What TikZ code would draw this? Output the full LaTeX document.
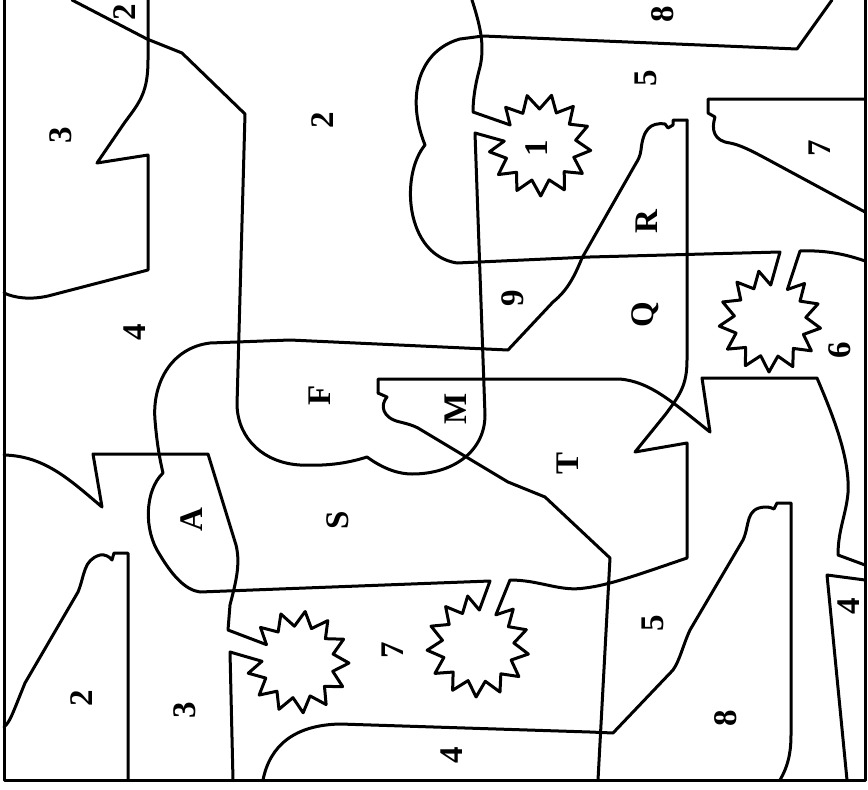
\documentclass[tikz,border=0pt]{standalone}
\usepackage{fontspec}
\setmainfont{Liberation Serif}
\usetikzlibrary{calc}

\tikzset{lab/.style={rotate=90,font=\fontsize{33}{33}\selectfont\bfseries,inner sep=0pt}}

% 13 point burst, one spike left out; #1a and #1b are the inner corners beside the gap
\newcommand{\burst}[4]{%
  \begin{scope}[shift={(#2,#3)}]
    \coordinate (#1a) at ({#4-13.846}:36);
    \coordinate (#1b) at ({#4+13.846}:36);
    \draw (#1b) \foreach \k in {1,...,12} { -- ({#4+\k*27.692}:51) -- ({#4+(\k+0.5)*27.692}:36) };
  \end{scope}}

\begin{document}
\begin{tikzpicture}[line cap=round,line join=round,x=1pt,y=-1pt,line width=3pt]
\useasboundingbox (0,0) rectangle (868,790);
\draw (4,0) -- (4,780) -- (865,780) -- (865,0);
% bursts
\burst{s1}{540}{145}{-160}
\burst{s2}{770}{321}{-75}
\burst{s3}{478}{646}{-74}
\burst{s4}{298}{662}{-165}
% top left
\draw (148,0) -- (148,60) .. controls (148,92) and (140,102) .. (125,122) -- (97,163) -- (148,155) -- (148,270) -- (48,296) .. controls (30,300) and (15,298) .. (4,293);
\draw (72,0) -- (147,39) -- (182,53) -- (245,114) -- (237,405) .. controls (238,440) and (265,463) .. (300,465) .. controls (325,466) and (345,464) .. (367,457) .. controls (385,470) and (400,474) .. (412,474) .. controls (455,474) and (485,450) .. (485,415) -- (475,133) -- (s1a);
\draw (472,0) .. controls (480,25) and (485,45) .. (480,67) .. controls (475,85) and (473,100) .. (473,112) -- (s1b);
% cloud at the top
\draw (832,0) -- (797,49) -- (483,36) -- (460,39) .. controls (420,50) and (405,95) .. (425,145) .. controls (400,175) and (405,255) .. (457,263) -- (590,257) -- (780,252) -- (s2a);
\draw (865,261) .. controls (845,254) and (825,250) .. (800,251) -- (s2b);
\draw (865,99) -- (708,99) -- (708,113) -- (715,117) .. controls (711,130) and (714,141) .. (730,143) .. controls (740,145) and (750,150) .. (765,158) -- (865,212);
% R, 9, F, A
\draw (687,120) -- (673,120) -- (673,125) -- (668,128) -- (665,124) .. controls (650,122) and (643,130) .. (641,150) .. controls (640,157) and (638,160) .. (635,165) -- (582,258) .. controls (575,275) and (568,290) .. (553,302) -- (508,350) -- (290,340) -- (210,343) .. controls (170,348) and (152,385) .. (155,420) .. controls (157,445) and (160,460) .. (163,473) .. controls (145,490) and (143,530) .. (160,555) .. controls (172,575) and (185,590) .. (200,592) -- (490,581) -- (s3a);
\draw (687,120) -- (687,360) .. controls (687,385) and (680,395) .. (665,415) -- (635,452) -- (687,443) -- (687,558) .. controls (640,574) and (610,585) .. (585,588) .. controls (560,592) and (540,580) .. (510,580) -- (s3b);
% T
\draw (378,393) -- (378,379) -- (620,379) .. controls (650,382) and (670,400) .. (710,432) -- (702,378) -- (817,378) .. controls (835,420) and (850,460) .. (848,493) .. controls (846,515) and (838,530) .. (838,555) -- (865,565);
\draw (378,393) -- (387,397) .. controls (380,405) and (382,418) .. (400,422) .. controls (408,424) and (412,425) .. (418,428) -- (508,482) -- (545,497) -- (610,558) -- (598,780);
% S
\draw (4,455) .. controls (45,456) and (70,480) .. (102,507) -- (93,454) -- (208,454) -- (236,545) .. controls (241,565) and (235,585) .. (230,605) -- (228,630) -- (s4b);
\draw (233,780) -- (230,652) -- (s4a);
% bottom
\draw (4,727) .. controls (10,722) and (12,715) .. (25,683) -- (78,592) .. controls (85,575) and (83,560) .. (100,555) .. controls (105,554) and (110,557) .. (112,560) -- (114,553) -- (128,553) -- (128,780);
\draw (263,780) .. controls (270,745) and (295,725) .. (340,724) -- (590,732) -- (613,733) -- (673,670) .. controls (680,660) and (683,645) .. (690,630) -- (743,540) .. controls (750,525) and (745,508) .. (765,507) .. controls (770,507) and (772,508) .. (774,509) -- (777,503) -- (791,503) -- (791,735) .. controls (791,755) and (787,768) .. (780,780);
\draw (865,580) -- (827,575) -- (847,780);
% labels
\node[lab] (l2a) at (125,12) {2};
\node[lab] (l3a) at (61,135) {3};
\node[lab] (l2b) at (323,120) {2};
\node[lab] (l8a) at (663,14) {8};
\node[lab] (l5a) at (646,78) {5};
\node[lab] (l1) at (537,148) {1};
\node[lab] (l7a) at (820,148) {7};
\node[lab] (lR) at (647,222) {R};
\node[lab] (l9) at (513,298) {9};
\node[lab] (lQ) at (645,315) {Q};
\node[lab] (l6) at (840,350) {6};
\node[lab] (l4a) at (135,332) {4};
\node[lab] (lF) at (320,395) {F};
\node[lab] (lM) at (456,409) {M};
\node[lab] (lT) at (568,463) {T};
\node[lab] (lA) at (192,520) {A};
\node[lab] (lS) at (338,520) {S};
\node[lab] (l4b) at (849,606) {4};
\node[lab] (l5b) at (653,623) {5};
\node[lab] (l7b) at (393,650) {7};
\node[lab] (l2c) at (82,698) {2};
\node[lab] (l3b) at (185,710) {3};
\node[lab] (l8b) at (726,718) {8};
\node[lab] (l4c) at (452,755) {4};
\end{tikzpicture}
\end{document}
